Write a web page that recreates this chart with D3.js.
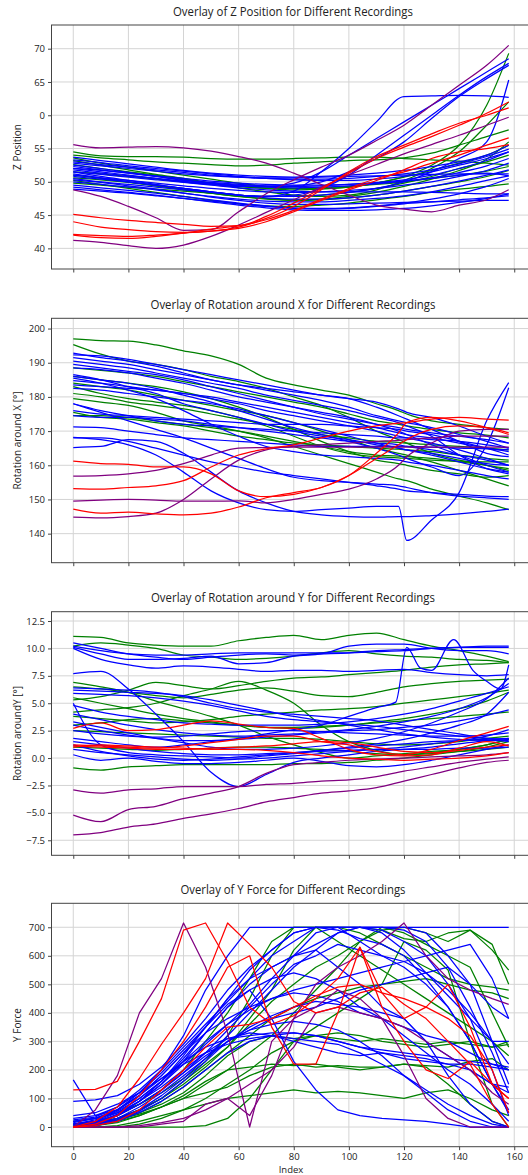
<!DOCTYPE html>
<html>
<head>
<meta charset="utf-8">
<script src="https://cdn.jsdelivr.net/npm/d3@7"></script>
<style>
  body { margin: 0; background: #fff; }
  text { font-family: "Open Sans", "DejaVu Sans", sans-serif; fill: #222; }
</style>
</head>
<body>
<svg id="chart" width="528" height="1175"></svg>
<script>
// x positions (sample index) of the values below
const xTicks = [0, 20, 40, 60, 80, 100, 120, 140, 160];
const gridIdx = [0, 10, 20, 30, 40, 50, 60, 70, 80, 90, 100, 110, 120, 130, 140, 150, 158];
const gridIdxRotX = [0, 10, 20, 30, 40, 50, 60, 70, 80, 90, 100, 110, 118, 121, 130, 140, 150, 158];
const forceIdx = [0, 8, 16, 24, 32, 40, 48, 56, 64, 72, 80, 88, 96, 104, 112, 120, 128, 136, 144, 152, 158];

// ---- Z position ----
const zGreen = [
  [54.5,53.9,53.8,53.8,53.7,53.5,53.4,53.4,53.5,53.6,53.7,53.7,53.5,53.3,53.1,52.8,52.5],
  [54.0,53.6,53.3,53.0,52.8,52.6,52.4,52.5,52.8,53.0,53.2,53.3,53.6,54.3,55.5,56.8,57.8],
  [53.6,52.8,52.2,51.6,51.0,50.4,49.8,49.3,49.0,49.0,49.2,49.8,50.8,52.5,55.5,61.5,69.3],
  [53.2,52.5,51.8,51.1,50.5,49.8,49.1,48.5,48.0,47.8,48.0,48.8,50.2,52.0,54.5,58.5,62.0],
  [52.6,52.0,51.5,51.0,50.4,49.8,49.3,49.0,48.8,48.9,49.2,49.8,50.7,51.7,52.8,54.0,55.5],
  [51.0,50.5,50.0,49.4,48.8,48.3,47.8,47.5,47.3,47.4,47.8,48.4,49.3,50.4,51.7,53.4,56.0],
  [50.6,50.3,49.9,49.4,48.9,48.3,47.8,47.4,47.2,47.3,47.6,48.0,48.6,49.3,50.0,50.8,51.7],
  [50.2,49.6,49.0,48.4,47.8,47.2,46.7,46.4,46.3,46.5,46.8,47.3,47.8,48.4,48.9,49.3,49.7],
  [49.8,49.5,49.2,48.9,48.6,48.3,48.0,47.8,47.8,48.0,48.4,49.0,49.8,50.8,52.0,53.0,54.0],
  [51.5,51.2,50.8,50.4,50.0,49.6,49.3,49.1,49.0,49.1,49.3,49.6,50.0,50.5,51.0,51.6,52.3]
];
const zBlue = [
  [51.5,50.8,50.2,49.6,49.0,48.5,48.0,47.8,48.6,51.5,55.0,59.0,62.8,62.9,63.0,62.9,62.7],
  [52.0,51.5,51.0,50.5,50.0,49.6,49.3,49.3,49.8,51.5,54.0,56.5,59.0,61.5,64.0,66.5,68.5],
  [50.5,50.0,49.6,49.2,48.8,48.4,48.0,47.8,48.0,49.0,51.0,54.0,57.0,60.0,63.0,65.8,67.8],
  [52.5,52.0,51.4,50.8,50.2,49.8,49.5,49.3,49.4,50.0,51.5,53.5,56.0,59.5,62.8,65.5,67.5],
  [51.2,50.6,50.0,49.5,49.0,48.5,48.0,47.8,47.8,48.0,48.4,49.0,50.0,51.5,53.5,56.0,65.3],
  [53.7,53.2,52.7,52.2,51.7,51.3,51.0,50.8,50.7,50.8,51.0,51.3,51.7,52.3,53.0,54.0,55.5],
  [53.0,52.6,52.2,51.8,51.4,51.0,50.7,50.5,50.4,50.4,50.5,50.8,51.2,51.8,52.7,53.8,54.9],
  [52.3,51.8,51.3,50.8,50.3,49.9,49.6,49.4,49.3,49.4,49.6,49.9,50.3,51.0,52.0,53.2,54.5],
  [51.8,51.3,50.9,50.5,50.1,49.7,49.4,49.2,49.1,49.2,49.4,49.7,50.1,50.6,51.4,52.4,53.5],
  [51.0,50.6,50.2,49.8,49.4,49.0,48.7,48.5,48.4,48.5,48.7,49.0,49.5,50.0,50.8,51.7,52.8],
  [50.8,50.4,50.0,49.5,49.0,48.5,48.0,47.6,47.4,47.4,47.6,48.0,48.6,49.3,50.1,51.0,51.8],
  [52.8,52.4,52.0,51.6,51.2,50.9,50.7,50.6,50.6,50.7,50.8,50.9,51.0,51.1,51.2,51.2,51.2],
  [50.0,49.6,49.2,48.8,48.3,47.8,47.4,47.1,47.0,47.0,47.2,47.5,47.9,48.5,49.3,50.2,50.9],
  [49.5,49.1,48.7,48.3,47.8,47.3,46.8,46.4,46.1,46.0,46.1,46.4,46.8,47.4,48.2,49.3,50.5],
  [49.2,48.8,48.4,48.0,47.5,47.0,46.5,46.1,45.8,45.7,45.7,45.8,46.0,46.4,46.9,47.5,48.2],
  [48.9,48.6,48.3,47.9,47.5,47.1,46.7,46.3,46.0,45.9,46.0,46.3,46.7,47.0,47.3,47.6,47.9],
  [50.3,49.9,49.4,48.9,48.3,47.7,47.2,46.8,46.6,46.6,46.7,46.8,46.9,47.0,47.1,47.2,47.2],
  [51.5,51.1,50.7,50.3,49.9,49.5,49.1,48.8,48.6,48.5,48.5,48.5,48.5,48.4,48.3,48.2,48.2],
  [53.3,52.9,52.4,52.0,51.6,51.2,50.8,50.5,50.3,50.2,50.2,50.4,50.8,51.5,52.5,53.5,54.5],
  [52.0,51.7,51.3,50.9,50.5,50.1,49.8,49.6,49.5,49.5,49.6,49.8,50.1,50.5,51.0,51.3,50.9]
];
const zPurple = [
  [55.6,55.1,55.2,55.3,55.1,54.6,53.8,52.8,51.3,49.6,48.0,46.5,45.9,45.5,46.5,47.3,48.8],
  [48.8,47.8,46.3,44.6,42.7,42.8,45.5,48.2,50.3,52.2,54.0,56.2,58.5,61.5,64.5,67.5,70.5],
  [41.2,40.9,40.4,40.0,40.5,41.8,43.5,45.4,47.3,49.2,51.0,52.6,54.2,55.6,57.0,58.5,59.7]
];
const zRed = [
  [45.1,44.6,44.2,43.9,43.6,43.3,43.4,44.8,46.8,49.0,51.3,53.5,55.2,56.8,58.5,60.3,62.0],
  [44.0,43.2,42.8,42.5,42.4,42.6,43.2,44.5,46.3,48.8,51.5,53.8,55.5,57.2,58.8,60.0,61.1],
  [42.0,41.6,41.5,41.8,42.3,42.9,43.4,44.3,45.7,47.4,49.0,50.5,51.5,52.8,54.0,55.5,56.6],
  [42.1,41.9,41.8,42.0,42.3,42.6,43.0,44.0,45.5,47.2,48.8,50.2,51.8,53.5,54.5,55.0,55.6]
];
const zTicks = [40, 45, 50, 55, 60, 65, 70];
const zTickLabels = ["40", "45", "50", "55", "0", "65", "70"];

// ---- Rotation around X ----
const rotXGreen = [
  [197.0,196.5,196.3,195.2,193.5,192.0,189.5,185.5,183.5,182.0,180.5,178.0,176.0,175.0,173.0,172.0,171.0,170.5],
  [195.3,192.5,190.5,189.5,188.0,186.0,184.5,182.5,180.0,177.5,174.0,170.0,167.5,166.5,163.5,161.5,160.0,158.5],
  [188.5,187.8,187.0,186.0,184.5,183.0,181.5,180.0,178.5,177.0,175.0,173.0,172.0,171.5,170.5,169.5,168.8,168.0],
  [186.0,185.0,184.0,183.0,181.5,179.5,177.0,174.0,170.5,167.0,164.0,161.5,160.5,160.0,158.5,157.5,156.5,157.0],
  [184.0,183.0,182.0,180.5,179.0,177.5,176.0,174.5,172.5,170.0,167.5,165.0,163.5,163.0,161.0,158.5,156.0,154.0],
  [183.0,181.0,179.5,178.5,177.5,176.0,174.0,171.5,168.5,165.5,163.5,162.5,162.2,162.0,161.5,161.2,161.0,161.0],
  [181.0,180.0,178.5,177.5,176.5,175.0,173.5,172.0,170.5,169.0,168.0,167.0,166.7,166.5,166.0,165.5,165.0,164.5],
  [179.5,178.5,177.5,175.5,173.0,171.5,170.0,168.0,165.5,163.0,160.5,158.0,156.0,155.5,153.0,151.0,149.0,147.0],
  [175.5,174.0,173.5,172.5,171.5,170.0,168.5,167.5,166.5,166.0,165.5,165.0,164.7,164.5,164.0,163.0,162.0,161.5],
  [174.5,174.5,174.0,173.0,172.0,171.0,170.0,168.5,167.0,165.5,164.0,163.0,162.7,162.5,162.0,161.0,160.0,159.0]
];
const rotXBlue = [
  [168.2,167.5,166.0,163.0,158.0,152.5,149.0,147.0,146.5,147.0,147.5,148.0,148.0,138.0,144.0,152.0,173.0,184.2],
  [165.2,165.5,167.5,167.0,163.5,158.0,152.5,149.0,146.5,145.5,145.0,144.8,145.0,145.0,145.3,145.8,146.5,147.2],
  [192.8,191.5,190.5,189.0,187.0,185.0,183.5,182.0,180.5,179.0,177.0,174.5,173.0,172.5,171.0,169.0,167.0,165.0],
  [192.3,192.0,191.0,189.5,188.0,186.5,185.0,183.5,182.0,180.5,179.5,178.5,176.5,175.5,174.0,171.5,168.5,166.5],
  [191.5,190.5,189.5,188.0,186.5,185.0,183.5,182.5,181.5,180.5,179.5,177.0,174.5,173.5,170.5,167.0,163.5,162.5],
  [190.5,189.5,188.5,187.0,185.5,184.0,182.5,180.5,179.0,177.5,176.0,174.0,172.5,171.5,168.5,163.0,159.0,157.5],
  [189.5,188.5,187.5,186.5,185.0,183.0,181.0,179.0,177.0,175.0,173.5,172.0,171.0,170.5,169.5,168.5,167.5,166.5],
  [188.5,188.0,187.0,185.5,184.0,182.0,180.0,178.5,177.0,175.5,174.0,172.0,170.0,169.0,166.0,163.0,160.0,158.0],
  [186.5,185.0,183.0,181.0,178.0,176.0,174.0,172.0,170.0,168.5,167.5,166.0,165.0,164.5,163.5,162.0,160.5,160.0],
  [185.5,184.0,182.0,179.5,176.0,172.0,168.5,165.5,164.0,163.0,162.5,162.0,161.5,161.0,160.0,158.5,157.0,156.0],
  [184.8,184.0,183.0,182.0,181.0,179.5,178.0,176.0,174.5,173.0,171.5,170.0,168.5,168.0,166.5,164.5,162.0,160.0],
  [183.5,183.0,182.5,182.0,181.0,180.0,178.5,177.0,175.5,174.0,172.5,171.0,169.5,169.0,168.0,166.5,165.0,164.0],
  [182.5,182.0,181.0,180.0,179.0,178.0,176.5,174.5,172.5,170.5,168.5,166.5,165.0,164.5,163.0,161.0,159.0,158.0],
  [178.0,176.0,174.5,173.0,172.0,171.5,171.0,170.5,170.0,169.5,169.0,168.5,168.0,168.0,167.5,167.0,166.0,165.0],
  [176.0,175.0,174.5,174.0,173.5,173.0,172.5,172.0,172.0,172.0,171.5,171.0,170.5,170.0,169.0,167.0,165.0,163.0],
  [174.5,174.0,174.0,173.5,173.0,172.0,171.0,170.0,169.0,168.0,167.0,166.5,166.0,165.5,164.5,163.0,161.5,160.0],
  [171.2,171.0,170.0,169.0,168.0,167.5,167.0,166.5,166.0,165.5,165.5,165.5,165.5,165.5,165.3,165.0,164.8,164.5],
  [168.0,168.0,167.0,165.0,163.0,161.0,159.5,158.0,157.0,156.0,155.0,154.0,153.0,152.5,152.0,151.5,151.0,150.8],
  [178.0,175.5,173.0,170.5,168.0,165.0,162.0,159.0,156.5,155.5,155.0,154.5,154.0,153.5,152.0,151.0,150.5,150.0],
  [186.0,185.0,184.0,182.5,180.5,178.5,176.0,173.5,171.0,169.0,167.0,165.0,163.0,162.0,159.5,157.0,166.0,182.7]
];
const rotXPurple = [
  [156.8,157.0,157.5,158.5,160.5,163.0,165.0,165.2,165.3,165.3,165.3,165.3,165.3,165.3,165.3,165.3,165.3,165.3],
  [144.8,144.6,145.0,146.0,150.0,156.0,161.5,164.5,165.5,166.0,166.5,167.0,167.3,167.5,168.0,168.5,168.5,168.5],
  [149.5,149.8,150.0,149.8,149.5,149.5,149.6,149.0,150.0,151.5,153.0,156.0,160.0,162.5,166.5,170.0,170.5,170.5]
];
const rotXRed = [
  [161.2,160.5,160.3,159.5,159.5,157.5,152.5,150.8,151.5,153.5,157.0,162.0,166.0,167.5,170.5,171.5,171.0,169.5],
  [153.2,153.0,153.5,154.0,155.5,159.5,163.0,164.8,166.0,168.0,170.0,171.5,172.3,172.5,173.5,174.0,173.5,173.2],
  [147.2,146.0,146.3,145.8,145.5,146.0,147.8,150.5,152.0,153.5,157.0,163.5,169.5,172.5,174.0,173.0,171.0,169.0]
];
const rotXTicks = [140, 150, 160, 170, 180, 190, 200];

// ---- Rotation around Y ----
const rotYGreen = [
  [11.1,11.0,10.5,10.3,10.2,10.2,10.7,11.0,11.2,10.8,11.2,11.4,10.8,10.2,9.8,9.3,8.8],
  [10.2,10.5,10.3,10.0,9.4,9.2,9.0,9.1,9.3,9.6,9.8,9.5,9.3,9.2,9.0,8.9,8.7],
  [6.9,6.5,6.0,5.2,4.5,3.8,3.0,2.0,1.2,0.5,0.0,0.2,0.4,0.6,0.8,1.2,1.7],
  [5.3,5.6,6.2,6.9,6.6,6.3,6.6,7.0,7.3,7.4,7.6,7.8,8.0,8.3,8.5,8.6,8.7],
  [6.5,6.3,6.0,5.7,5.5,5.8,6.2,6.4,6.1,5.7,5.6,6.0,6.5,6.8,7.0,7.1,7.2],
  [4.2,4.4,4.6,5.0,5.7,6.3,7.0,6.2,5.0,3.0,1.5,0.7,0.3,0.5,0.8,1.2,1.7],
  [3.8,3.6,3.4,3.2,3.3,3.5,3.8,4.0,4.2,4.4,4.5,4.7,5.0,5.3,5.6,5.9,6.2],
  [3.0,3.2,3.5,3.6,3.4,3.2,3.0,2.8,2.7,2.8,3.0,3.3,3.6,4.0,4.5,5.2,6.0],
  [2.5,2.4,2.3,2.2,2.1,2.0,1.9,1.8,1.8,1.7,1.5,1.3,1.2,1.3,1.5,1.8,2.0],
  [1.0,0.9,0.8,0.7,0.8,0.9,1.0,1.0,0.9,0.8,0.6,0.4,0.3,0.4,0.6,0.8,1.0],
  [-0.9,-1.1,-0.8,-0.7,-0.6,-0.6,-0.6,-0.6,-0.5,-0.5,-0.4,-0.2,0.0,0.3,0.6,1.0,1.5],
  [5.5,5.0,4.5,4.0,3.6,3.3,3.0,2.8,2.8,2.9,3.0,3.2,3.4,3.6,3.8,4.0,4.2]
];
const rotYBlue = [
  [7.7,7.9,6.3,4.0,1.5,-1.3,-2.6,-1.5,-0.4,0.0,0.3,0.6,0.8,1.0,1.3,1.6,1.8],
  [10.2,9.8,9.5,9.4,9.4,9.5,9.6,9.6,9.6,9.6,9.6,9.7,9.8,10.0,10.1,10.1,10.1],
  [10.1,9.5,9.0,9.0,9.1,9.3,8.6,8.7,9.3,9.5,10.2,10.4,10.4,10.0,9.8,9.8,9.5],
  [10.5,10.0,9.5,9.2,9.0,9.2,9.4,9.5,9.4,9.5,9.6,9.8,9.9,10.0,10.1,10.2,10.2],
  [10.0,9.0,8.5,8.2,8.4,8.3,8.1,7.9,8.0,8.0,7.9,8.0,8.1,7.8,7.6,7.5,7.6],
  [6.4,6.3,6.2,6.0,5.6,5.0,4.5,4.2,4.0,3.8,3.6,3.4,3.0,2.6,2.2,1.8,1.5],
  [6.2,6.1,6.0,5.9,5.7,5.3,4.8,4.3,3.8,3.4,3.0,2.6,2.2,1.9,1.7,1.6,1.6],
  [5.9,5.8,5.7,5.5,5.2,4.8,4.3,3.8,3.5,3.3,3.1,2.9,2.6,2.3,2.0,1.8,1.7],
  [4.8,4.2,3.8,3.5,3.2,3.1,3.0,3.0,3.0,3.1,3.3,3.6,4.0,4.5,5.2,5.9,6.5],
  [4.0,3.5,3.0,2.6,2.3,2.1,2.0,2.1,2.2,2.4,2.6,2.9,3.3,3.8,4.5,5.5,6.8],
  [3.3,2.8,2.3,1.8,1.4,1.0,0.8,0.8,0.9,1.1,1.4,1.8,2.4,3.2,4.2,5.4,7.3],
  [3.0,2.5,2.1,1.8,1.6,1.6,1.7,1.9,2.1,2.3,2.5,2.6,2.8,3.0,3.4,3.9,4.4],
  [2.5,2.2,2.0,1.9,2.0,2.2,2.4,2.5,2.5,2.4,2.3,2.2,2.1,2.0,2.0,2.1,2.3],
  [1.5,1.2,0.9,0.6,0.4,0.3,0.3,0.4,0.5,0.6,0.7,0.8,0.8,0.8,0.9,0.9,1.0],
  [1.2,0.6,0.2,-0.1,-0.2,-0.1,0.1,0.3,0.5,0.7,0.9,1.1,1.3,1.5,1.6,1.7,1.8],
  [0.8,0.5,0.3,0.1,-0.1,-0.2,-0.1,0.0,0.2,0.4,0.6,0.8,1.0,1.3,1.6,2.0,2.6],
  [0.3,-0.2,0.0,-0.3,-0.5,-0.5,-0.4,-0.2,0.0,-0.3,-0.7,-0.8,-0.6,-0.2,0.3,0.8,1.2],
  [5.0,1.2,0.5,0.3,0.2,0.1,0.0,0.2,0.4,0.7,1.0,1.3,1.7,2.3,3.0,4.0,6.0]
];
// one recording with a sharp spike near index 120
const rotYSpikeIdx = [0, 10, 20, 30, 40, 50, 60, 70, 80, 90, 100, 110, 117, 121, 126, 130, 138, 145, 150, 155, 158];
const rotYSpikeVals = [1.8,1.5,1.2,1.0,1.2,1.5,1.8,2.2,2.6,3.0,3.8,4.6,5.1,10.1,8.2,8.0,10.8,8.0,7.0,6.3,8.5];
const rotYPurple = [
  [-2.9,-3.2,-2.9,-2.8,-2.6,-2.6,-2.6,-2.4,-2.3,-2.1,-2.0,-1.7,-1.2,-0.8,-0.4,-0.1,0.1],
  [-5.2,-5.8,-4.7,-4.4,-3.7,-3.2,-2.6,-1.4,-0.6,-0.4,-0.2,-0.1,0.0,0.1,0.2,0.3,0.5],
  [-7.0,-6.8,-6.3,-6.0,-5.5,-5.1,-4.6,-4.0,-3.6,-3.2,-3.0,-2.7,-2.1,-1.5,-0.9,-0.4,-0.2]
];
const rotYRed = [
  [2.7,3.2,2.5,2.6,3.0,3.4,3.1,2.8,2.7,1.8,0.8,0.3,0.2,0.3,0.9,1.5,1.1],
  [1.2,1.1,1.0,0.9,1.1,1.4,1.7,2.0,2.0,1.5,1.2,0.6,0.3,0.8,1.6,2.3,2.9],
  [1.1,1.0,0.9,0.8,0.8,0.9,1.0,1.1,1.3,1.5,1.4,1.0,0.6,0.5,0.7,1.0,1.2],
  [1.0,1.2,1.1,1.0,0.9,0.8,0.8,0.7,0.5,0.2,0.0,-0.1,-0.2,-0.1,0.0,0.2,0.5]
];
const rotYTicks = [-7.5, -5, -2.5, 0, 2.5, 5, 7.5, 10, 12.5];

// ---- Y force ----
const forceGreen = [
  [10,15,30,50,80,120,180,250,300,320,310,320,310,300,310,300,290,300,290,280,290],
  [0,10,30,60,100,160,220,280,380,480,620,700,700,700,690,660,650,680,690,620,550],
  [20,30,50,80,120,170,230,320,450,600,700,700,700,680,640,600,560,520,500,490,480],
  [0,5,15,40,70,100,120,140,180,210,220,210,215,210,210,220,215,210,230,240,200],
  [0,0,5,20,40,60,80,100,110,120,130,120,125,120,110,100,120,130,100,60,40],
  [0,0,0,10,30,60,100,150,200,260,300,320,330,320,300,290,280,290,300,280,300],
  [10,20,40,80,130,200,300,400,520,650,700,700,650,600,550,500,450,400,350,300,250],
  [0,10,25,50,90,140,200,260,320,380,420,450,470,490,500,510,520,500,480,470,450],
  [0,0,0,0,0,0,5,30,100,200,300,350,400,450,500,650,620,550,300,80,0],
  [0,5,20,40,70,110,160,200,210,220,215,220,210,200,210,220,210,150,80,20,0],
  [5,15,30,60,100,150,210,280,360,440,500,560,600,650,700,680,640,600,560,400,280],
  [0,10,25,45,70,100,150,200,260,320,400,480,560,650,690,700,680,650,690,640,500]
];
const forceBlue = [
  [0,20,60,120,200,320,480,600,700,700,700,700,700,700,700,700,700,700,700,700,700],
  [165,40,60,110,180,260,350,450,520,560,600,620,560,500,420,380,300,250,200,150,140],
  [90,95,110,150,210,290,380,480,560,620,680,700,690,660,640,600,520,420,300,150,50],
  [20,30,60,110,180,260,330,380,420,450,470,460,440,400,380,350,320,300,260,220,200],
  [0,10,30,60,110,170,240,320,400,480,560,620,680,700,690,650,600,500,380,200,40],
  [30,40,70,120,190,270,350,430,480,520,540,520,480,420,380,320,260,200,150,80,20],
  [10,20,50,100,160,230,300,360,410,450,480,500,520,540,560,580,600,620,640,520,380],
  [0,10,40,90,150,220,290,360,430,520,600,680,700,650,600,560,500,420,300,150,60],
  [20,30,50,90,140,200,260,310,330,320,300,280,260,250,260,250,240,220,200,150,120],
  [0,15,45,90,150,230,330,420,480,380,230,130,60,40,30,25,20,10,0,0,0],
  [0,10,30,70,120,180,240,300,340,360,370,360,340,300,250,180,120,60,20,0,0],
  [40,50,80,120,170,220,260,290,310,320,330,320,300,280,270,260,250,240,230,220,210],
  [10,25,55,100,160,240,330,420,500,560,600,640,680,700,700,690,650,560,420,260,120],
  [0,5,20,50,90,140,200,260,300,320,310,300,290,260,220,180,130,80,40,10,0],
  [25,35,70,130,200,280,360,440,520,600,650,700,700,700,680,620,540,460,380,300,300],
  [5,15,40,80,130,190,250,300,340,380,400,420,450,480,500,520,540,560,500,300,150],
  [0,8,25,55,100,160,230,300,350,390,420,440,430,420,400,380,300,180,80,20,0],
  [15,30,60,110,170,230,280,310,320,330,330,320,300,280,260,240,230,220,220,210,200],
  [0,10,40,90,160,250,350,450,550,620,680,700,700,700,700,700,680,600,500,420,380],
  [10,20,40,80,130,190,260,340,420,500,570,600,640,620,600,580,540,480,400,300,220]
];
const forcePurple = [
  [0,60,180,400,520,715,560,330,0,300,380,420,480,450,380,250,100,30,0,0,0],
  [0,0,0,0,10,20,80,100,40,180,380,500,560,600,650,715,600,520,480,450,430],
  [0,0,0,5,15,30,60,100,150,200,280,400,420,400,380,350,300,250,200,120,80]
];
const forceRed = [
  [130,132,160,300,450,690,715,580,420,360,390,450,520,630,470,380,420,500,350,150,100],
  [0,20,70,170,290,400,520,715,640,560,440,400,420,470,490,430,380,300,220,80,0],
  [0,10,40,110,200,300,420,560,600,350,220,220,400,630,420,300,200,170,230,150,100],
  [0,5,20,60,130,200,280,350,360,380,420,460,490,500,470,450,420,380,320,200,50]
];
const forceTicks = [0, 100, 200, 300, 400, 500, 600, 700];

const colors = { green: "#008000", blue: "#0000ff", purple: "#800080", red: "#ff0000" };

const left = 51.5, right = 530.5;
const svg = d3.select("#chart");
const x = d3.scaleLinear().domain([-7.9, 165.9]).range([left, right]);

function grp(idx, arr) { return arr.map(v => ({ idx: idx, v: v })); }

const panels = [
  {
    title: "Overlay of Z Position for Different Recordings", ylabel: "Z Position",
    top: 25, bottom: 269, domain: [36.9, 73.56], ticks: zTicks, labels: zTickLabels,
    curve: d3.curveMonotoneX, titleW: 240,
    series: [
      ["green", grp(gridIdx, zGreen)], ["blue", grp(gridIdx, zBlue)],
      ["purple", grp(gridIdx, zPurple)], ["red", grp(gridIdx, zRed)]
    ]
  },
  {
    title: "Overlay of Rotation around X for Different Recordings", ylabel: "Rotation around X [°]",
    top: 318.3, bottom: 562.7, domain: [131.5, 203.0], ticks: rotXTicks, labels: rotXTicks.map(String),
    curve: d3.curveMonotoneX, titleW: 285,
    series: [
      ["green", grp(gridIdxRotX, rotXGreen)], ["blue", grp(gridIdxRotX, rotXBlue)],
      ["purple", grp(gridIdxRotX, rotXPurple)], ["red", grp(gridIdxRotX, rotXRed)]
    ]
  },
  {
    title: "Overlay of Rotation around Y for Different Recordings", ylabel: "Rotation aroundY [°]",
    top: 611.7, bottom: 855.3, domain: [-8.87, 13.35], ticks: rotYTicks,
    labels: rotYTicks.map(d => d3.format(".1f")(d)),
    curve: d3.curveMonotoneX, titleW: 284,
    series: [
      ["green", grp(gridIdx, rotYGreen)],
      ["blue", grp(gridIdx, rotYBlue).concat([{ idx: rotYSpikeIdx, v: rotYSpikeVals }])],
      ["purple", grp(gridIdx, rotYPurple)], ["red", grp(gridIdx, rotYRed)]
    ]
  },
  {
    title: "Overlay of Y Force for Different Recordings", ylabel: "Y Force",
    top: 903.3, bottom: 1146.7, domain: [-69, 784], ticks: forceTicks, labels: forceTicks.map(String),
    curve: d3.curveLinear, xLabels: true, titleW: 225,
    series: [
      ["green", grp(forceIdx, forceGreen)], ["blue", grp(forceIdx, forceBlue)],
      ["purple", grp(forceIdx, forcePurple)], ["red", grp(forceIdx, forceRed)]
    ]
  }
];

panels.forEach(p => {
  const y = d3.scaleLinear().domain(p.domain).range([p.bottom, p.top]);
  const g = svg.append("g");
  const h = p.bottom - p.top;

  // grid
  g.append("g").selectAll("line").data(xTicks).enter().append("line")
    .attr("x1", d => x(d)).attr("x2", d => x(d))
    .attr("y1", p.top).attr("y2", p.bottom)
    .attr("stroke", "#d4d4d4").attr("stroke-width", 1);
  g.append("g").selectAll("line").data(p.ticks).enter().append("line")
    .attr("x1", left).attr("x2", right)
    .attr("y1", d => y(d)).attr("y2", d => y(d))
    .attr("stroke", "#d4d4d4").attr("stroke-width", 1);

  // lines
  const line = d3.line().x(d => x(d[0])).y(d => y(d[1])).curve(p.curve);
  p.series.forEach(([c, list]) => {
    g.append("g").selectAll("path").data(list).enter().append("path")
      .attr("d", s => line(s.v.map((v, i) => [s.idx[i], v])))
      .attr("fill", "none")
      .attr("stroke", colors[c])
      .attr("stroke-width", 1.25)
      .attr("stroke-linejoin", "round");
  });

  // frame
  g.append("rect").attr("x", left).attr("y", p.top)
    .attr("width", right - left).attr("height", h)
    .attr("fill", "none").attr("stroke", "#444").attr("stroke-width", 1);

  // axes
  const xAxis = d3.axisBottom(x).tickValues(xTicks).tickSize(3.5).tickPadding(3)
    .tickFormat(p.xLabels ? d3.format("d") : "");
  const xg = g.append("g").attr("transform", "translate(0," + p.bottom + ")").call(xAxis);
  xg.select(".domain").remove();
  xg.selectAll("line").attr("stroke", "#444");
  xg.selectAll("text").attr("font-size", 9.5).attr("fill", "#222")
    .style("font-family", "'Open Sans', sans-serif");

  const yAxis = d3.axisLeft(y).tickValues(p.ticks).tickSize(3.5).tickPadding(3)
    .tickFormat((d, i) => p.labels[i].replace("-", "\u2212"));
  const yg = g.append("g").attr("transform", "translate(" + left + ",0)").call(yAxis);
  yg.select(".domain").remove();
  yg.selectAll("line").attr("stroke", "#444");
  yg.selectAll("text").attr("font-size", 9.5).attr("fill", "#222")
    .style("font-family", "'Open Sans', sans-serif");

  // title
  g.append("text").attr("x", (left + right) / 2 + 2).attr("y", p.top - 9.5)
    .attr("text-anchor", "middle").attr("font-size", 12.5)
    .attr("textLength", p.titleW).attr("lengthAdjust", "spacingAndGlyphs")
    .text(p.title);

  // y label
  g.append("text")
    .attr("transform", "translate(21," + (p.top + h / 2) + ") rotate(-90)")
    .attr("text-anchor", "middle").attr("font-size", 10).text(p.ylabel);

  if (p.xLabels) {
    g.append("text").attr("x", (left + right) / 2).attr("y", p.bottom + 26)
      .attr("text-anchor", "middle").attr("font-size", 9.5).text("Index");
  }
});
</script>
</body>
</html>
